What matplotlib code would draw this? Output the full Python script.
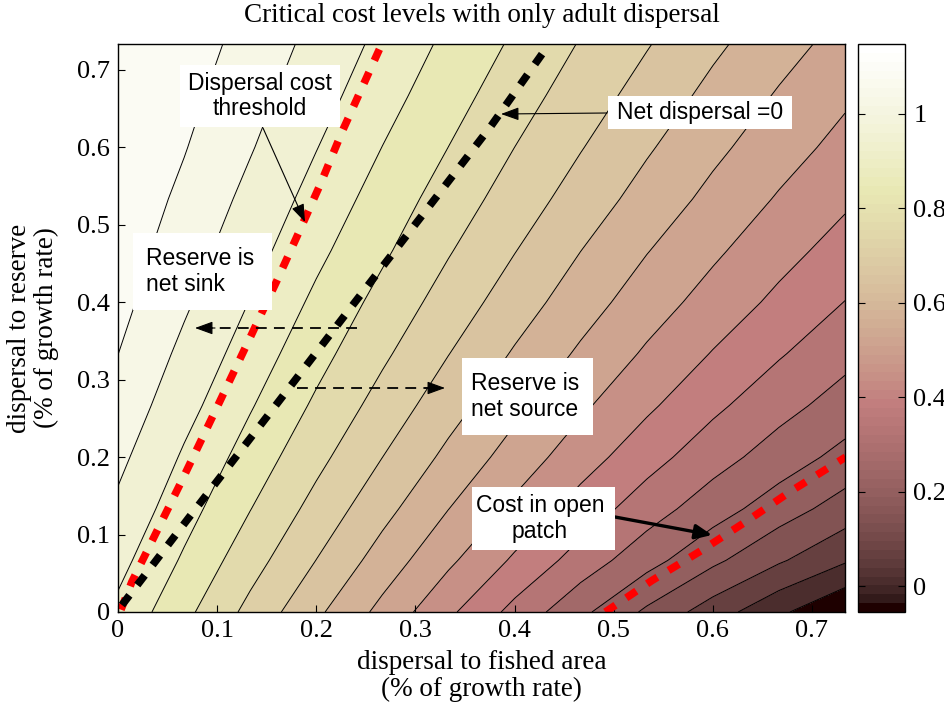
import numpy as np
import matplotlib
matplotlib.use('Agg')
import matplotlib.pyplot as plt
from matplotlib.colors import Normalize
from matplotlib.patches import Rectangle
from matplotlib.lines import Line2D
import matplotlib.cm as cm

# grid of the surface (x = dispersal to fished area, y = dispersal to reserve)
grid_x = [0.0, 0.0667, 0.1333, 0.2, 0.2667, 0.3333, 0.4, 0.4667, 0.5333, 0.6, 0.6667, 0.7333]
grid_y = [0.0, 0.0667, 0.1333, 0.2, 0.2667, 0.3333, 0.4, 0.4667, 0.5333, 0.6, 0.6667, 0.7333]

# critical cost values, one row per grid_y value (bottom to top)
z_row0 = [0.944, 0.848, 0.750, 0.654, 0.560, 0.464, 0.369, 0.277, 0.187, 0.103, 0.021, -0.055]
z_row1 = [0.978, 0.886, 0.794, 0.704, 0.614, 0.527, 0.442, 0.361, 0.285, 0.212, 0.143, 0.079]
z_row2 = [1.009, 0.920, 0.833, 0.747, 0.662, 0.579, 0.501, 0.425, 0.355, 0.290, 0.229, 0.170]
z_row3 = [1.037, 0.950, 0.868, 0.786, 0.705, 0.626, 0.551, 0.480, 0.413, 0.351, 0.295, 0.242]
z_row4 = [1.063, 0.980, 0.900, 0.821, 0.744, 0.668, 0.595, 0.526, 0.463, 0.402, 0.347, 0.298]
z_row5 = [1.085, 1.006, 0.929, 0.853, 0.779, 0.706, 0.635, 0.568, 0.506, 0.448, 0.394, 0.344]
z_row6 = [1.104, 1.031, 0.956, 0.882, 0.811, 0.741, 0.673, 0.607, 0.545, 0.490, 0.437, 0.387]
z_row7 = [1.118, 1.051, 0.982, 0.910, 0.842, 0.773, 0.707, 0.642, 0.581, 0.526, 0.474, 0.426]
z_row8 = [1.128, 1.071, 1.004, 0.936, 0.868, 0.803, 0.739, 0.677, 0.617, 0.561, 0.509, 0.462]
z_row9 = [1.136, 1.088, 1.026, 0.960, 0.894, 0.831, 0.768, 0.708, 0.649, 0.593, 0.542, 0.495]
z_row10 = [1.142, 1.103, 1.044, 0.983, 0.919, 0.857, 0.796, 0.737, 0.680, 0.624, 0.572, 0.525]
z_row11 = [1.148, 1.118, 1.061, 1.003, 0.942, 0.881, 0.822, 0.764, 0.709, 0.654, 0.603, 0.555]

# contour levels (18 equally spaced levels inside the data range)
levels = [0.0083, 0.0716, 0.1349, 0.1982, 0.2616, 0.3249, 0.3882, 0.4515, 0.5148,
          0.5781, 0.6414, 0.7047, 0.7680, 0.8313, 0.8947, 0.9580, 1.0213, 1.0846]

# dotted curves
thresh_x = [0.003, 0.014, 0.063, 0.099, 0.135, 0.160, 0.182, 0.204, 0.226, 0.261, 0.266]
thresh_y = [0.003, 0.039, 0.166, 0.262, 0.359, 0.427, 0.489, 0.552, 0.620, 0.719, 0.733]
net0_x = [0.004, 0.071, 0.155, 0.239, 0.308, 0.376, 0.432]
net0_y = [0.009, 0.121, 0.260, 0.400, 0.514, 0.627, 0.728]
open_x = [0.4916, 0.539, 0.588, 0.635, 0.680, 0.734]
open_y = [0.0, 0.041, 0.079, 0.118, 0.157, 0.200]

ticks = [0, 0.1, 0.2, 0.3, 0.4, 0.5, 0.6, 0.7]
cb_ticks = [0, 0.2, 0.4, 0.6, 0.8, 1]

Z = np.array([z_row0, z_row1, z_row2, z_row3, z_row4, z_row5, z_row6, z_row7,
              z_row8, z_row9, z_row10, z_row11])
zmin, zmax = Z.min(), Z.max()

W, H = 945, 712
fig = plt.figure(figsize=(W/100, H/100), dpi=100)
ax = fig.add_axes([118/W, 1-612/H, 727/W, 568/H])
cax = fig.add_axes([858/W, 1-612/H, 47/W, 568/H])

cmap = plt.get_cmap('pink', 64)
norm = Normalize(zmin, zmax)
X, Y = np.meshgrid(grid_x, grid_y)
flev = [zmin - 1e-6] + levels + [zmax + 1e-6]
bcol = [cmap(norm(zmin))] + [cmap(norm(v)) for v in levels]
ax.contourf(X, Y, Z, levels=flev, colors=bcol)
ax.contour(X, Y, Z, levels=levels, colors='k', linewidths=0.7)

ax.plot(thresh_x, thresh_y, color='red', lw=5.5, dashes=(1.6, 1.7), dash_capstyle='butt')
ax.plot(net0_x, net0_y, color='black', lw=5.5, dashes=(1.6, 1.7), dash_capstyle='butt')
ax.plot(open_x, open_y, color='red', lw=5.5, dashes=(1.6, 1.7), dash_capstyle='butt')

ax.set_xlim(0, 11/15)
ax.set_ylim(0, 11/15)
ax.set_xticks(ticks)
ax.set_yticks(ticks)
ax.set_xticklabels([f"{t:g}" for t in ticks])
ax.set_yticklabels([f"{t:g}" for t in ticks])
serif = 'Liberation Serif'
ax.tick_params(direction='in', length=5, width=0.8, labelsize=19, pad=6, top=False, right=False)
for lab in ax.get_xticklabels() + ax.get_yticklabels():
    lab.set_family(serif)
for s in ax.spines.values():
    s.set_linewidth(1.0)

sm = cm.ScalarMappable(norm=norm, cmap=cmap)
cb = fig.colorbar(sm, cax=cax, ticks=cb_ticks)
cb.ax.set_yticklabels([f"{t:g}" for t in cb_ticks])
cax.tick_params(direction='in', length=5, width=0.8, labelsize=19, pad=6, left=True, right=True)
for lab in cax.get_yticklabels():
    lab.set_family(serif)
cb.outline.set_linewidth(1.0)

def fx(px):
    return px / W

def fy(py):
    return 1 - py / H

fig.text(fx(481.5), fy(15), 'Critical cost levels with only adult dispersal', family=serif,
         fontsize=19.5, ha='center', va='center')
fig.text(fx(481.5), fy(676), 'dispersal to fished area\n(% of growth rate)', family=serif,
         fontsize=19.5, ha='center', va='center', linespacing=1.1)
fig.text(fx(33), fy(328), 'dispersal to reserve\n(% of growth rate)', family=serif,
         fontsize=19.5, ha='center', va='center', rotation=90, linespacing=1.1)

sans = 'Liberation Sans'
boxes = [
    (180, 65, 340, 127, 'Dispersal cost\nthreshold', 260, 'center'),
    (608, 96, 792, 129, 'Net dispersal =0', 700, 'center'),
    (133, 233, 272, 310, 'Reserve is\nnet sink', 146, 'left'),
    (462, 358, 593, 435, 'Reserve is\nnet source', 525, 'center'),
    (472, 487, 615, 550, 'Cost in open\npatch', 540, 'center'),
]
for x0, y0, x1, y1, txt, tx, ha in boxes:
    fig.add_artist(Rectangle((fx(x0), fy(y1)), (x1-x0)/W, (y1-y0)/H, transform=fig.transFigure,
                             facecolor='white', edgecolor='none', zorder=5))
    fig.text(fx(tx), fy((y0+y1)/2), txt, family=sans, fontsize=16.5, ha=ha, va='center',
             multialignment=ha, linespacing=1.15, zorder=6)

def arrow(x0, y0, x1, y1, lw=0.8, hl=0.55, hw=0.2):
    ax.annotate('', xy=(x1, H-y1), xytext=(x0, H-y0), xycoords='figure pixels',
                textcoords='figure pixels',
                arrowprops=dict(arrowstyle=f'-|>,head_length={hl},head_width={hw}', color='k', lw=lw,
                                mutation_scale=20, shrinkA=0, shrinkB=0), zorder=7)

arrow(263, 128, 305, 222)
arrow(607, 113, 501, 114)
arrow(615, 517, 712, 535, lw=2.4, hl=0.5, hw=0.22)

for (x0, x1, yy) in [(357, 205, 328), (297, 435, 388)]:
    fig.add_artist(Line2D([fx(x0), fx(x1)], [fy(yy), fy(yy)], transform=fig.transFigure,
                          color='k', lw=1.3, dashes=(6, 4), zorder=7))
arrow(215, 328, 195, 328)
arrow(425, 388, 445, 388)

fig.savefig('out.png', dpi=100)
